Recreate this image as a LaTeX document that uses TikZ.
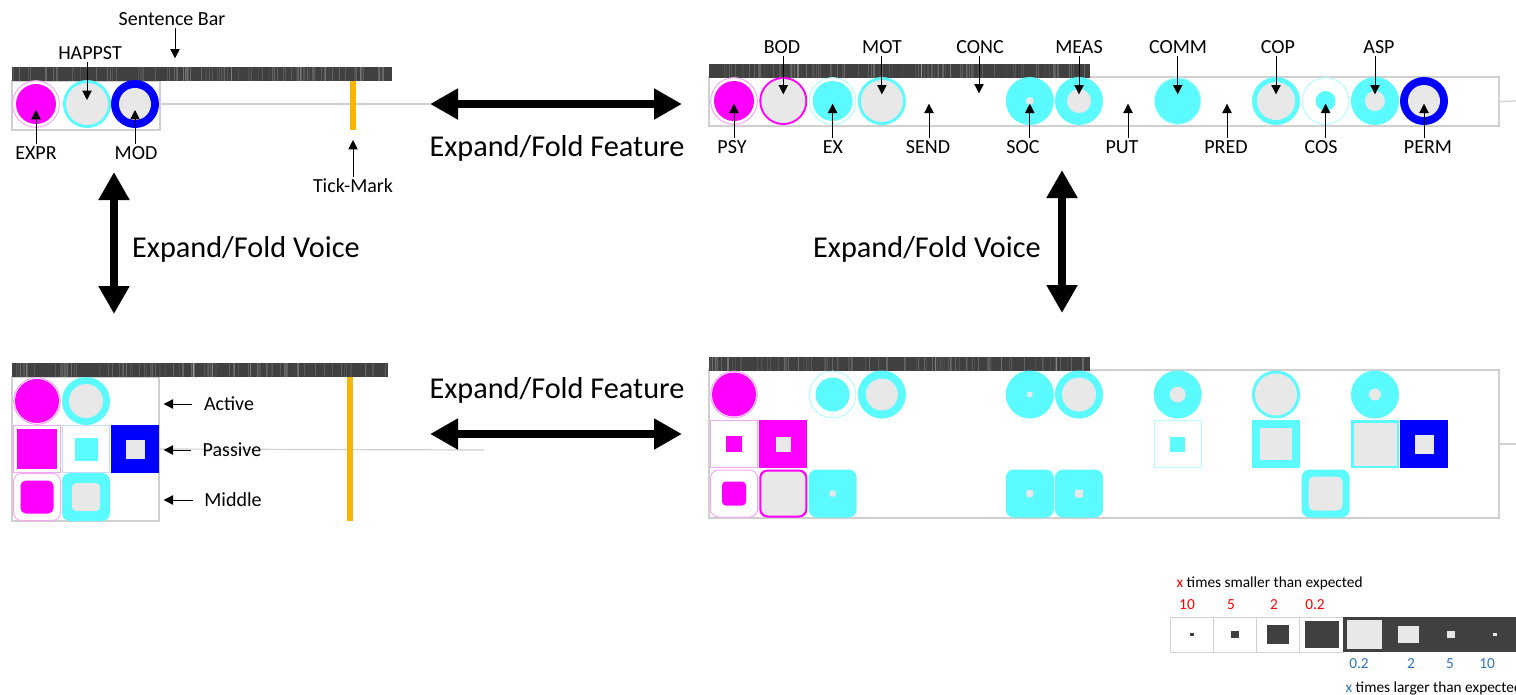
\documentclass[tikz,border=0pt]{standalone}
\usepackage{fontspec}
\setmainfont{Carlito}
\usetikzlibrary{arrows.meta}

\definecolor{magc}{HTML}{FF00FF}
\definecolor{lmagc}{HTML}{F2A8F2}
\definecolor{cyanc}{HTML}{5AFAFF}
\definecolor{lcyanc}{HTML}{B4FCFF}
\definecolor{lbluec}{HTML}{C6DCFF}
\definecolor{bluec}{HTML}{0000FF}
\definecolor{lgrayc}{HTML}{E8E8E8}
\definecolor{darkc}{HTML}{404040}
\definecolor{framec}{HTML}{D0D0D0}
\definecolor{tickc}{HTML}{F7B500}
\definecolor{redc}{HTML}{FF0000}
\definecolor{numc}{HTML}{2E75B6}

% sentence bar: left, right, top, seed
\newcommand{\sentbar}[4]{%
  \fill[darkc] (#1,#3) rectangle (#2,#3+14);
  \pgfmathsetseed{#4}
  \foreach \k in {1,...,90} {
    \pgfmathsetmacro{\xs}{#1+1+rnd*(#2-#1-2)}
    \pgfmathsetmacro{\ws}{0.3+rnd*0.9}
    \pgfmathsetmacro{\os}{0.05+rnd*0.17}
    \draw[white, opacity = \os, line width = \ws pt] (\xs,#3) -- (\xs,#3+14);
  }
}

\begin{document}
\begin{tikzpicture}[x = 0.75pt, y = -0.75pt,
                    lbl/.style = {font = \fontsize{15}{18}\selectfont, inner sep = 2pt,
                                  text height = 9.7pt, text depth = 0pt},
                    biglbl/.style = {font = \fontsize{22.7}{27}\selectfont, inner sep = 0pt,
                                     text height = 14.6pt, text depth = 0pt},
                    leg/.style = {font = \fontsize{11.5}{14}\selectfont, inner sep = 1pt,
                                  text height = 7.4pt, text depth = 0pt},
                    ptr/.style = {line width = 0.75pt, -{Triangle[length = 7pt, width = 7pt]}},
                    big/.style = {line width = 6pt,
                                  {Triangle[length = 21pt, width = 22pt]}-{Triangle[length = 21pt, width = 22pt]}},
                    link/.style = {draw = framec, line width = 0.9pt},
                    panel/.style 2 args = {draw = framec, line width = 1pt, inner sep = 0pt,
                                           minimum width = #1*0.75pt, minimum height = #2*0.75pt},
                    tickbar/.style = {fill = tickc, inner sep = 0pt, minimum width = 4.5pt,
                                      minimum height = #1*0.75pt},
                    csoft/.style n args = {3}{circle, inner sep = 0pt, minimum size = 35pt,
                        draw = #1, line width = 0.75pt, fill = white,
                        path picture = {\fill[#2] (path picture bounding box.center) circle [radius = #3];}},
                    csolid/.style 2 args = {circle, inner sep = 0pt, minimum size = 36pt, fill = #1,
                        path picture = {\fill[lgrayc] (path picture bounding box.center) circle [radius = #2];}},
                    ssoft/.style n args = {3}{rectangle, inner sep = 0pt, minimum size = 35.25pt,
                        draw = #1, line width = 0.75pt, fill = white,
                        path picture = {\fill[#2] ([shift = {({-#3/2},{-#3/2})}]path picture bounding box.center)
                                        rectangle ++(#3,#3);}},
                    ssolid/.style 2 args = {rectangle, inner sep = 0pt, minimum size = 36pt, fill = #1,
                        path picture = {\fill[lgrayc] ([shift = {({-#2/2},{-#2/2})}]path picture bounding box.center)
                                        rectangle ++(#2,#2);}},
                    rsoft/.style n args = {3}{rectangle, rounded corners = 6pt, inner sep = 0pt,
                        minimum size = 35.25pt, draw = #1, line width = 0.75pt, fill = white,
                        path picture = {\fill[#2, rounded corners = {#3*0.12pt}]
                                        ([shift = {({-#3/2},{-#3/2})}]path picture bounding box.center)
                                        rectangle ++(#3,#3);}},
                    rsolid/.style 2 args = {rectangle, rounded corners = 6pt, inner sep = 0pt,
                        minimum size = 36pt, fill = #1,
                        path picture = {\fill[lgrayc, rounded corners = {#2*0.12pt}]
                                        ([shift = {({-#2/2},{-#2/2})}]path picture bounding box.center)
                                        rectangle ++(#2,#2);}},
                    wcell/.style = {rectangle, inner sep = 0pt, minimum width = 32.5pt, minimum height = 26.25pt,
                        draw = framec, line width = 0.75pt, fill = white,
                        path picture = {\fill[darkc] ([shift = {({-#1/2},{-#1/2.44})}]path picture bounding box.center)
                                        rectangle ++(#1,#1/1.22);}},
                    dcell/.style = {rectangle, inner sep = 0pt, minimum width = 32.5pt, minimum height = 26.25pt,
                        fill = darkc,
                        path picture = {\fill[lgrayc] ([shift = {({-#1/2},{-#1/2.44})}]path picture bounding box.center)
                                        rectangle ++(#1,#1/1.22);}}]

    \useasboundingbox (0,0) rectangle (1516,694);

    % top left: folded sentence
    \node[panel = {148}{49}] (tlbox) at (86,105.5) {};
    \sentbar{12}{392}{67}{3}
    \node[csoft = {lmagc}{magc}{20}] (expr) at (36,104) {};
    \node[csolid = {cyanc}{21}] (happst) at (87,104) {};
    \node[csolid = {bluec}{16}] (mod) at (135,104) {};
    \coordinate (fa1) at (430,104);
    \coordinate (fa2) at (682,104);
    \draw[link] (mod.east) -- (fa1);
    \node[tickbar = 49] (tk1) at (353,105.5) {};
    \coordinate (sb) at (175,67);
    \coordinate (tkm) at (353,130);

    \node[lbl] (lSB) at (172,19) {Sentence Bar};
    \node[lbl] (lHAPPST) at (90,53) {HAPPST};
    \node[lbl] (lEXPR) at (36,153) {EXPR};
    \node[lbl] (lMOD) at (136,153) {MOD};
    \node[lbl] (lTM) at (353,186) {Tick-Mark};

    % top right: features expanded
    \node[panel = {790}{49}] (trbox) at (1104,101.5) {};
    \sentbar{709}{1090}{64}{5}
    \node[csoft = {lmagc}{magc}{20}] (psy) at (734,101) {};
    \node[csolid = {magc}{22}] (bod) at (783.3,101) {};
    \node[csoft = {lcyanc}{cyanc}{20}] (ex) at (832.6,101) {};
    \node[csolid = {cyanc}{21}] (mot) at (881.9,101) {};
    \coordinate (send) at (929,101);
    \coordinate (conc) at (979,100);
    \node[csolid = {cyanc}{4}] (soc) at (1029.8,101) {};
    \node[csolid = {cyanc}{12}] (meas) at (1079,101) {};
    \coordinate (put) at (1128,101);
    \node[csoft = {lcyanc}{cyanc}{23}] (comm) at (1177.7,101) {};
    \coordinate (pred) at (1227,101);
    \node[csolid = {cyanc}{19}] (cop) at (1276,101) {};
    \node[csoft = {lcyanc}{cyanc}{10}] (cos) at (1325.6,101) {};
    \node[csolid = {cyanc}{10}] (asp) at (1375,101) {};
    \node[csolid = {bluec}{16}] (perm) at (1424,101) {};
    \coordinate (trend) at (1516,101);
    \draw[link] (trbox.east) -- (trend);

    \node[lbl] (lBOD) at (782,47) {BOD};
    \node[lbl] (lMOT) at (882,47) {MOT};
    \node[lbl] (lCONC) at (980,47) {CONC};
    \node[lbl] (lMEAS) at (1079,47) {MEAS};
    \node[lbl] (lCOMM) at (1178,47) {COMM};
    \node[lbl] (lCOP) at (1278,47) {COP};
    \node[lbl] (lASP) at (1379,47) {ASP};
    \node[lbl] (lPSY) at (732,147) {PSY};
    \node[lbl] (lEX) at (833,147) {EX};
    \node[lbl] (lSEND) at (928,147) {SEND};
    \node[lbl] (lSOC) at (1023,147) {SOC};
    \node[lbl] (lPUT) at (1122,147) {PUT};
    \node[lbl] (lPRED) at (1226,147) {PRED};
    \node[lbl] (lCOS) at (1321,147) {COS};
    \node[lbl] (lPERM) at (1428,147) {PERM};

    % bottom left: voices expanded
    \node[panel = {147}{144}] (blbox) at (85.5,449) {};
    \sentbar{12}{388}{363}{9}
    \node[csoft = {lmagc}{magc}{22}] (bla1) at (37,401) {};
    \node[csolid = {cyanc}{17}] (bla2) at (86,401) {};
    \node[ssoft = {lmagc}{magc}{40}] (blp1) at (37,449) {};
    \node[ssoft = {lbluec}{cyanc}{23}] (blp2) at (86,449) {};
    \node[ssolid = {bluec}{19}] (blp3) at (135,449) {};
    \node[rsoft = {lmagc}{magc}{33}] (blm1) at (37,497) {};
    \node[rsolid = {cyanc}{28}] (blm2) at (86,497) {};
    \coordinate (blend) at (484,450);
    \draw[link] (blp3.east) -- (blend);
    \node[tickbar = 144] (tk2) at (350,449) {};

    \node[lbl] (lAct) at (229,404) {Active};
    \node[lbl] (lPas) at (232,450) {Passive};
    \node[lbl] (lMid) at (233,500) {Middle};

    % bottom right: both expanded
    \node[panel = {790}{148}] (brbox) at (1104,444) {};
    \sentbar{709}{1090}{357}{11}
    \node[csoft = {lmagc}{magc}{22}] (r1c1) at (734,394.5) {};
    \node[csoft = {lcyanc}{cyanc}{17}] (r1c3) at (832.6,394.5) {};
    \node[csolid = {cyanc}{16}] (r1c4) at (881.9,394.5) {};
    \node[csolid = {cyanc}{3}] (r1c7) at (1029.8,394.5) {};
    \node[csolid = {cyanc}{17}] (r1c8) at (1079,394.5) {};
    \node[csolid = {cyanc}{8}] (r1c10) at (1177.7,394.5) {};
    \node[csolid = {cyanc}{21}] (r1c12) at (1276,394.5) {};
    \node[csolid = {cyanc}{6}] (r1c14) at (1375,394.5) {};
    \node[ssoft = {lmagc}{magc}{16}] (r2c1) at (734,444) {};
    \node[ssolid = {magc}{15}] (r2c2) at (783.3,444) {};
    \node[ssoft = {lcyanc}{cyanc}{15}] (r2c10) at (1177.7,444) {};
    \node[ssolid = {cyanc}{32}] (r2c12) at (1276,444) {};
    \node[ssolid = {cyanc}{43}] (r2c14) at (1375,444) {};
    \node[ssolid = {bluec}{19}] (r2c15) at (1424,444) {};
    \node[rsoft = {lmagc}{magc}{24}] (r3c1) at (734,493.5) {};
    \node[rsolid = {magc}{44}] (r3c2) at (783.3,493.5) {};
    \node[rsolid = {cyanc}{6}] (r3c3) at (832.6,493.5) {};
    \node[rsolid = {cyanc}{7}] (r3c7) at (1029.8,493.5) {};
    \node[rsolid = {cyanc}{8}] (r3c8) at (1079,493.5) {};
    \node[rsolid = {cyanc}{34}] (r3c13) at (1325.6,493.5) {};
    \coordinate (brend) at (1516,444);
    \draw[link] (brbox.east) -- (brend);

    % expand / fold arrows
    \coordinate (fb1) at (430,434);
    \coordinate (fb2) at (682,434);
    \coordinate (va1) at (114,172);
    \coordinate (va2) at (114,314);
    \coordinate (vb1) at (1062,170);
    \coordinate (vb2) at (1062,313);
    \node[biglbl] (lfa) at (557,147) {Expand/Fold Feature};
    \node[biglbl] (lfb) at (557,389) {Expand/Fold Feature};
    \node[biglbl] (lva) at (246,248) {Expand/Fold Voice};
    \node[biglbl] (lvb) at (927,248) {Expand/Fold Voice};

    \foreach \i/\j in {fa1/fa2,
                       fb1/fb2,
                       va1/va2,
                       vb1/vb2}
    {
        \draw[big] (\i) -- (\j);
    }

    % pointers
    \foreach \l/\g/\s in {lSB/sb/6.5pt, lHAPPST/happst/3pt,
                          lBOD/bod/5pt, lMOT/mot/5pt, lCONC/conc/5pt, lMEAS/meas/5pt,
                          lCOMM/comm/5pt, lCOP/cop/5pt, lASP/asp/5pt}
    {
        \draw[ptr, shorten > = \s] (\l.south -| \g.center) -- (\g.center);
    }
    \foreach \l/\g/\s in {lEXPR/expr/4.5pt, lMOD/mod/4.5pt, lTM/tkm/7.5pt,
                          lPSY/psy/2pt, lEX/ex/2pt, lSEND/send/2pt, lSOC/soc/2pt,
                          lPUT/put/2pt, lPRED/pred/2pt, lCOS/cos/2pt, lPERM/perm/2pt}
    {
        \draw[ptr, shorten > = \s] (\l.north -| \g.center) -- (\g.center);
    }
    \foreach \l in {lAct, lPas, lMid}
    {
        \draw[ptr, shorten < = 6.5pt, shorten > = 3pt] (\l.west) -- (\l.west -| blbox.east);
    }

    % legend
    \node[leg, anchor = west] (lsmall) at (1175,583) {\textcolor{redc}{x} times smaller than expected};
    \node[leg, anchor = west] (llarge) at (1344,688) {\textcolor{numc}{x} times larger than expected};
    \foreach \i/\s in {1/4, 2/8, 3/22, 4/34}
    {
        \node[wcell = \s] (c\i) at ({1170+43.3*(\i-0.5)},634.5) {};
    }
    \foreach \i/\s in {5/35, 6/21, 7/8, 8/4}
    {
        \node[dcell = \s] (c\i) at ({1170+43.3*(\i-0.5)},634.5) {};
    }
    \foreach \i/\t/\x in {1/10/1187, 2/5/1231, 3/2/1274, 4/0.2/1315}
    {
        \node[leg, text = redc] (n\i) at (\x,605) {\t};
    }
    \foreach \i/\t/\x in {5/0.2/1359, 6/2/1411, 7/5/1450, 8/10/1487}
    {
        \node[leg, text = numc] (n\i) at (\x,664) {\t};
    }
\end{tikzpicture}
\end{document}
